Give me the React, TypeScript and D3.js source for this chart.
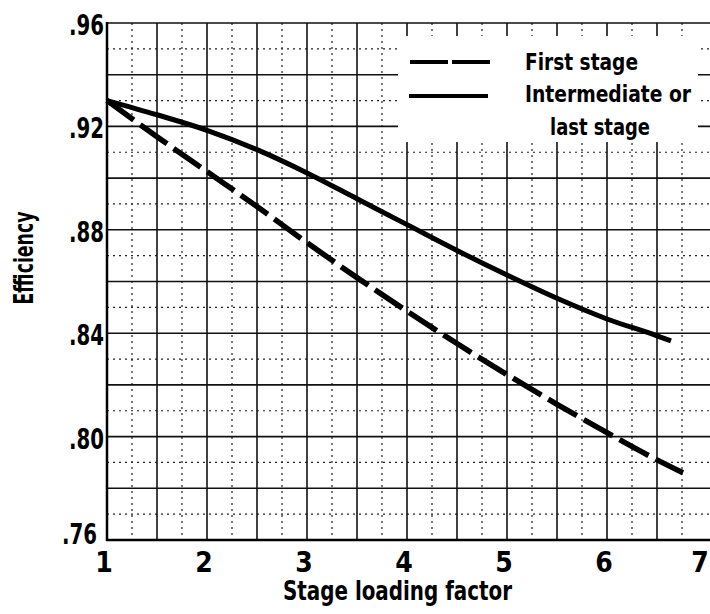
import React from "react";
import * as d3 from "d3";

// Stage loading factor vs. efficiency
const firstStageLoading = [1, 1.5, 2, 2.5, 3, 3.5, 4, 4.5, 5, 5.5, 6, 6.5, 6.76];
const firstStageEfficiency = [0.93, 0.916, 0.9025, 0.889, 0.875, 0.8615, 0.8485, 0.836, 0.824, 0.8125, 0.8015, 0.791, 0.786];

const laterStageLoading = [1, 1.5, 2, 2.5, 3, 3.5, 4, 4.5, 5, 5.5, 6, 6.5, 6.64];
const laterStageEfficiency = [0.93, 0.9245, 0.9185, 0.911, 0.902, 0.892, 0.882, 0.872, 0.8625, 0.8535, 0.8455, 0.839, 0.837];

const xTickValues = [1, 2, 3, 4, 5, 6, 7];
const xTickLabels = ["1", "2", "3", "4", "5", "6", "7"];
const yTickValues = [0.76, 0.8, 0.84, 0.88, 0.92, 0.96];
const yTickLabels = [".76", ".80", ".84", ".88", ".92", ".96"];

const legendLabels = ["First stage", "Intermediate or", "last stage"];
const xAxisTitle = "Stage loading factor";
const yAxisTitle = "Efficiency";

const W = 710;
const H = 614;
const FONT = "'Liberation Sans Narrow', 'DejaVu Sans Condensed', 'Roboto Condensed', 'Arial Narrow', 'Liberation Sans', sans-serif";

export default function App() {
  const x = d3.scaleLinear().domain([1, 7]).range([107, 707]);
  const y = d3.scaleLinear().domain([0.76, 0.96]).range([540, 23]);

  const majorX = d3.range(1.5, 6.51, 0.5);
  const minorX = d3.range(1.25, 6.76, 0.5);
  const majorY = d3.range(0.78, 0.961, 0.02);
  const minorY = d3.range(0.77, 0.956, 0.02);

  const line = d3
    .line<[number, number]>()
    .x((d) => x(d[0]))
    .y((d) => y(d[1]))
    .curve(d3.curveMonotoneX);

  const firstPath = line(firstStageLoading.map((v, i) => [v, firstStageEfficiency[i]]) as [number, number][]) || "";
  const laterPath = line(laterStageLoading.map((v, i) => [v, laterStageEfficiency[i]]) as [number, number][]) || "";

  const left = x(1);
  const bottom = y(0.76);
  const top = y(0.96);

  return (
    <svg
      width={W}
      height={H}
      viewBox={`0 0 ${W} ${H}`}
      style={{ position: "absolute", left: 0, top: 0, display: "block", background: "#fff" }}
    >
      <rect x={0} y={0} width={W} height={H} fill="#fff" />

      {/* minor dotted grid */}
      <g stroke="#222" strokeWidth={1.2} strokeDasharray="2 4">
        {minorX.map((v) => (
          <line key={"mx" + v} x1={x(v)} x2={x(v)} y1={top} y2={bottom} />
        ))}
        {minorY.map((v) => (
          <line key={"my" + v} x1={left} x2={W} y1={y(v)} y2={y(v)} />
        ))}
      </g>

      {/* major grid */}
      <g stroke="#111" strokeWidth={1.6}>
        {majorX.map((v) => (
          <line key={"Mx" + v} x1={x(v)} x2={x(v)} y1={top} y2={bottom} />
        ))}
        {majorY.map((v) => (
          <line key={"My" + v} x1={left} x2={W} y1={y(v)} y2={y(v)} />
        ))}
      </g>

      {/* axes */}
      <g stroke="#000" strokeWidth={2.5}>
        <line x1={left} x2={left} y1={top - 1} y2={bottom + 1} />
        <line x1={left - 1} x2={W} y1={bottom} y2={bottom} />
      </g>

      {/* legend block */}
      <rect x={398} y={36} width={300} height={106} fill="#fff" />
      <g stroke="#000" strokeWidth={4}>
        <line x1={410} x2={490} y1={62} y2={62} strokeDasharray="38 4" />
        <line x1={409} x2={488} y1={96} y2={96} />
      </g>
      <g fontFamily={FONT} fontWeight={700} fontSize={23} fill="#000">
        <text x={525} y={70} textLength={113} lengthAdjust="spacingAndGlyphs">{legendLabels[0]}</text>
        <text x={525} y={102} textLength={166} lengthAdjust="spacingAndGlyphs">{legendLabels[1]}</text>
        <text x={550} y={135} textLength={100} lengthAdjust="spacingAndGlyphs">{legendLabels[2]}</text>
      </g>

      {/* curves */}
      <path d={laterPath} fill="none" stroke="#000" strokeWidth={5} />
      <path d={firstPath} fill="none" stroke="#000" strokeWidth={5.5} strokeDasharray="33 8" />

      {/* tick labels */}
      <g fontFamily={FONT} fontWeight={700} fontSize={28} fill="#000">
        {yTickValues.map((v, i) => (
          <text
            key={"yt" + v}
            x={v === 0.76 ? left - 10 : left - 3}
            y={v === 0.76 ? y(v) + 4 : y(v) + 12}
            textAnchor="end"
            textLength={35}
            lengthAdjust="spacingAndGlyphs"
          >
            {yTickLabels[i]}
          </text>
        ))}
        {xTickValues.map((v, i) => (
          <text key={"xt" + v} x={v === 7 ? 700 : x(v) - 3} y={572} textAnchor="middle">
            {xTickLabels[i]}
          </text>
        ))}
      </g>

      {/* axis titles */}
      <g fontFamily={FONT} fontWeight={700} fontSize={26} fill="#000">
        <text x={283} y={600} textLength={229} lengthAdjust="spacingAndGlyphs">{xAxisTitle}</text>
        <text
          transform={`translate(33, 258) rotate(-90)`}
          textAnchor="middle"
          textLength={93}
          lengthAdjust="spacingAndGlyphs"
        >
          {yAxisTitle}
        </text>
      </g>
    </svg>
  );
}
